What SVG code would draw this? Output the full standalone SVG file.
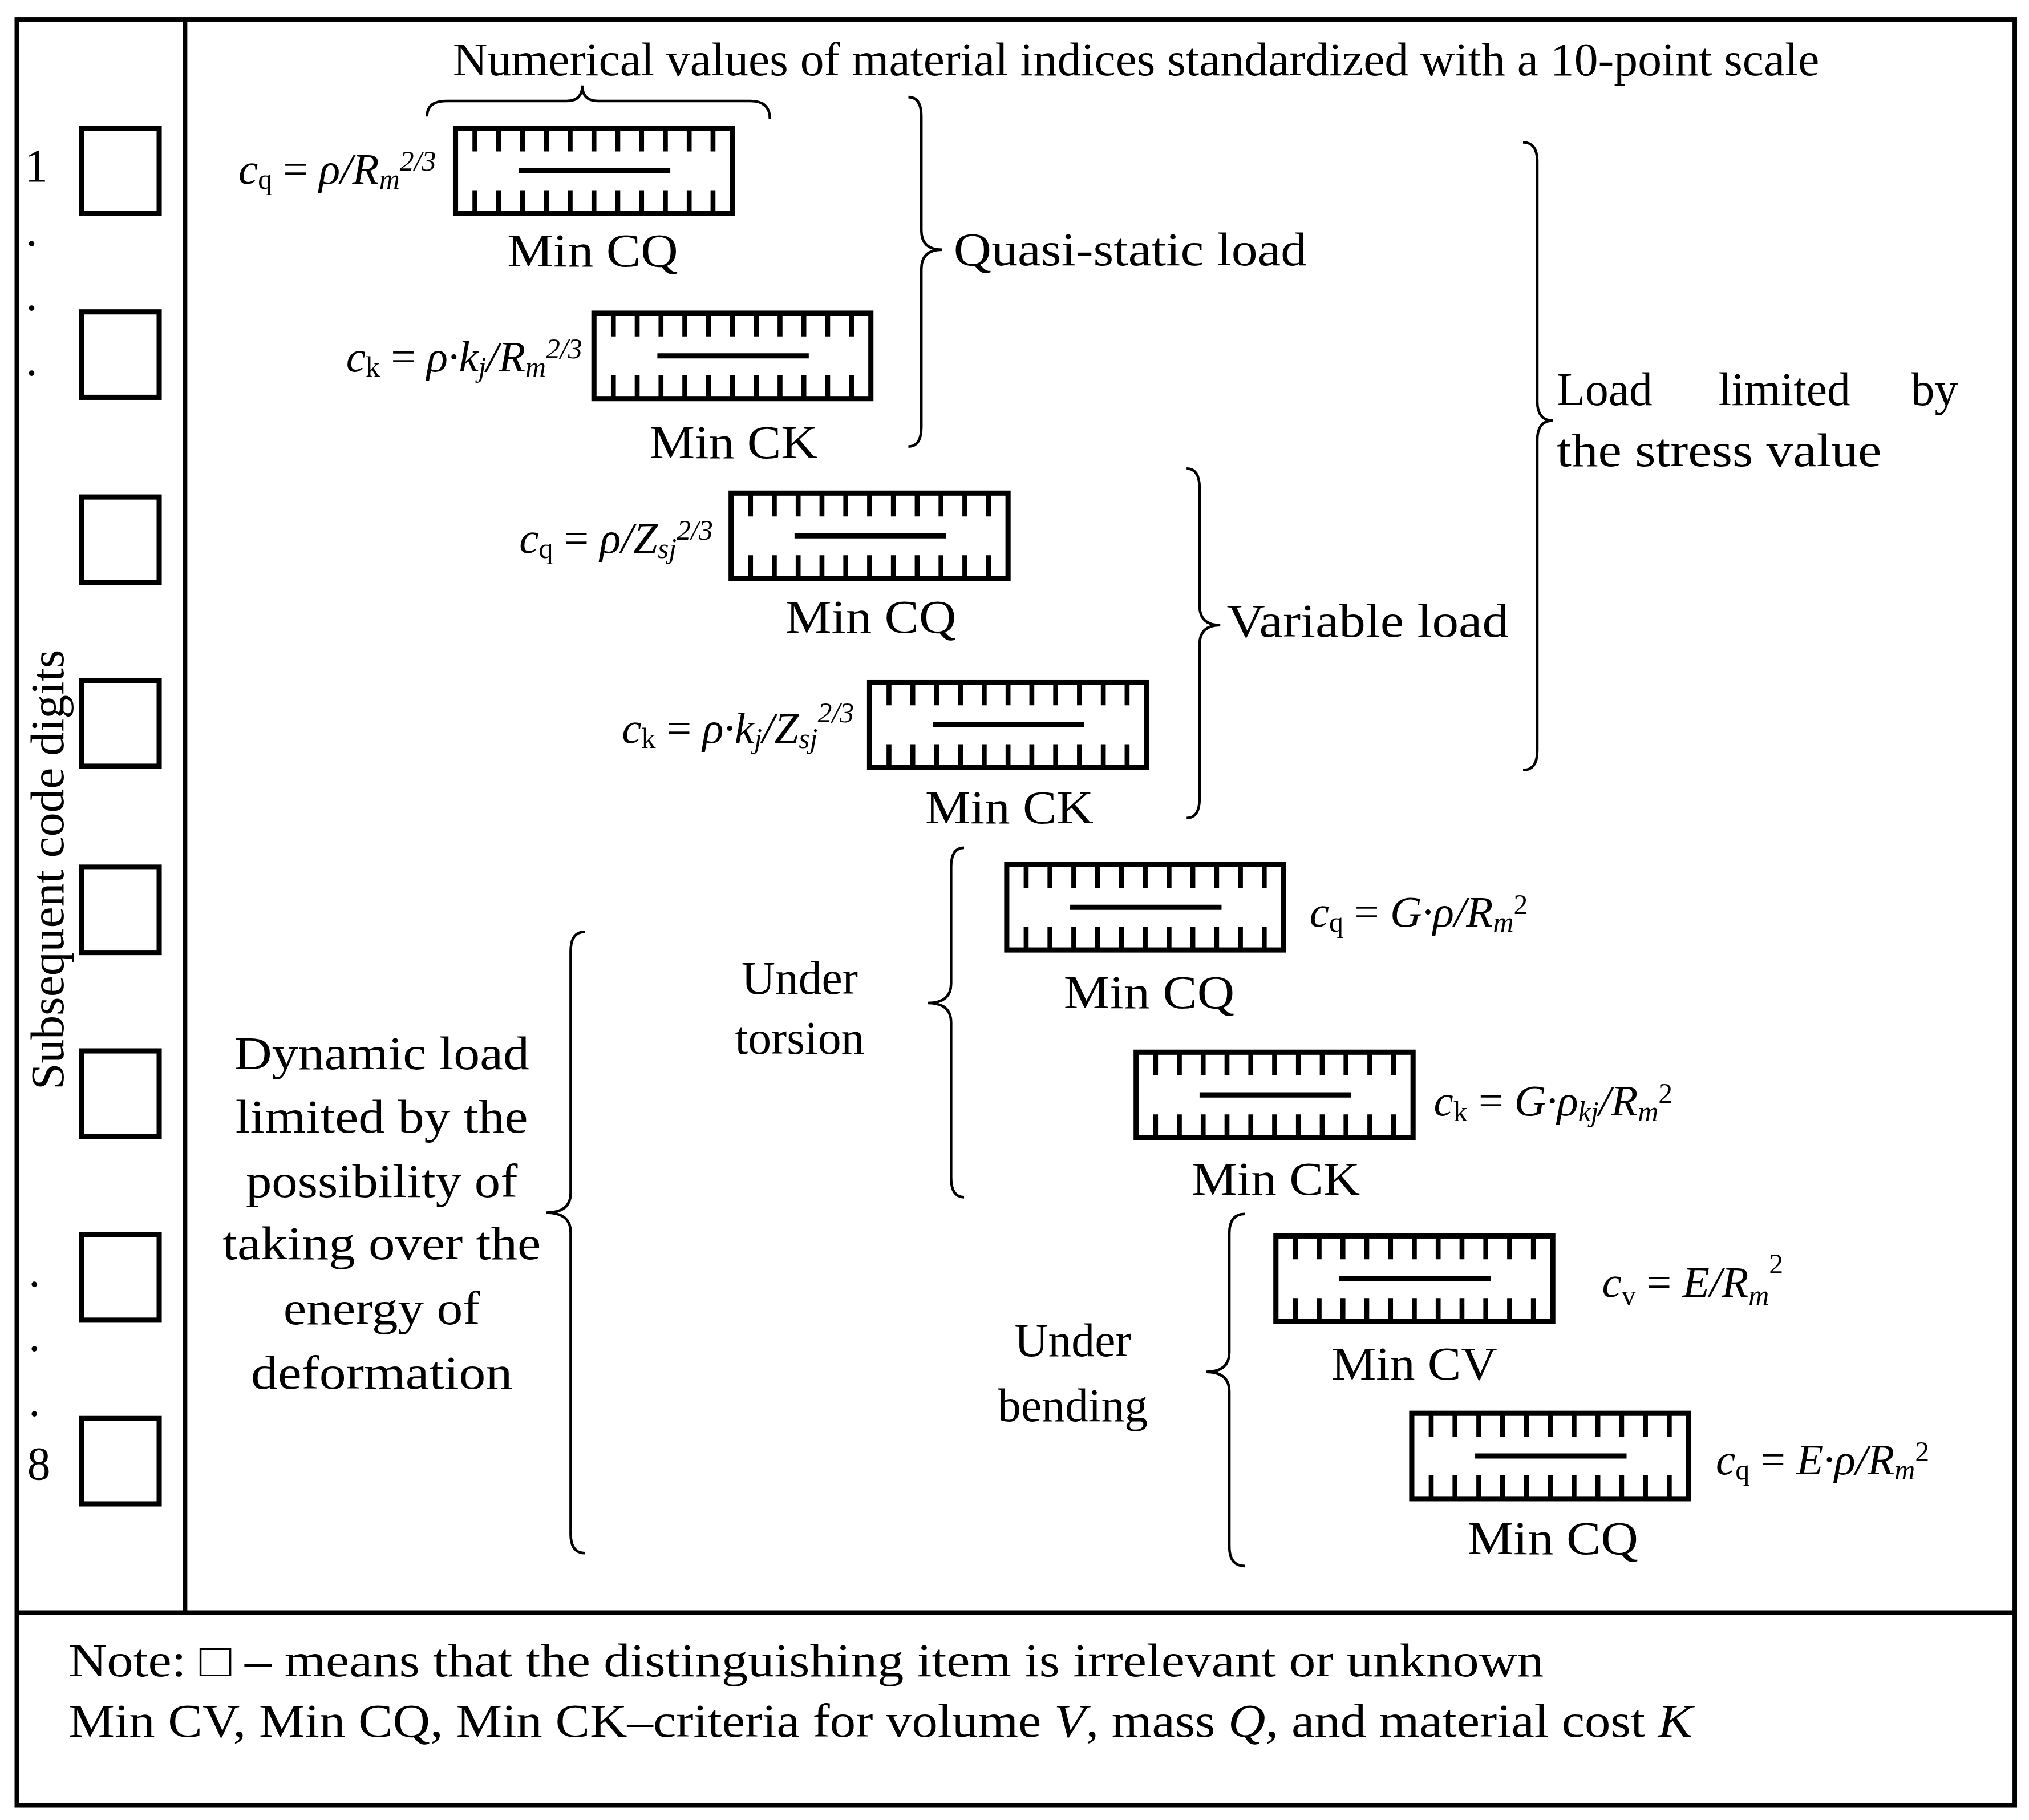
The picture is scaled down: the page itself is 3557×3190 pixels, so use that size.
<svg xmlns="http://www.w3.org/2000/svg" xmlns:xlink="http://www.w3.org/1999/xlink" width="3557" height="3190" viewBox="0 0 3557 3190">
<style>
.t{font-family:"Liberation Serif","DejaVu Serif",serif;font-size:36px;fill:#000}
.f{font-family:"Liberation Serif","DejaVu Serif",serif;font-size:34px;font-style:italic;fill:#000}
.s{font-size:22px}
.m{text-anchor:middle}
.br{fill:none;stroke:#000;stroke-width:2}
.ln{stroke:#000;stroke-width:3.5;fill:none}
</style>
<defs>
<g id="ruler">
<rect x="0" y="0" width="214" height="66" fill="#fff" stroke="#000" stroke-width="4"/>
<path stroke="#000" stroke-width="3.8" d="M15 0v18M33.4 0v18M51.8 0v18M70.2 0v18M88.6 0v18M107 0v18M125.4 0v18M143.8 0v18M162.2 0v18M180.6 0v18M199 0v18M15 66v-18M33.4 66v-18M51.8 66v-18M70.2 66v-18M88.6 66v-18M107 66v-18M125.4 66v-18M143.8 66v-18M162.2 66v-18M180.6 66v-18M199 66v-18"/>
<path stroke="#000" stroke-width="4" d="M49 33H166"/>
</g>
<rect id="sq" x="0" y="0" width="60" height="66" fill="#fff" stroke="#000" stroke-width="4"/>
</defs>
<rect width="3557" height="3190" fill="#fff"/>
<g transform="scale(2.2685)">
<g id="frame">
<rect x="13" y="15" width="1544" height="1380" class="ln"/>
<path class="ln" d="M13 1246H1557M143 15V1246"/>
</g>
<g id="digits">
<use xlink:href="#sq" x="63" y="99"/><use xlink:href="#sq" x="63" y="241"/><use xlink:href="#sq" x="63" y="384"/><use xlink:href="#sq" x="63" y="526"/>
<use xlink:href="#sq" x="63" y="670"/><use xlink:href="#sq" x="63" y="812"/><use xlink:href="#sq" x="63" y="954"/><use xlink:href="#sq" x="63" y="1096"/>
<text class="t" x="19" y="140">1</text>
<text class="t" x="20" y="190">.</text><text class="t" x="20" y="240">.</text><text class="t" x="20" y="290">.</text>
<text class="t" x="22" y="994">.</text><text class="t" x="22" y="1044">.</text><text class="t" x="22" y="1094">.</text>
<text class="t" x="21" y="1143">8</text>
<text class="t m" transform="translate(49 672) rotate(-90)" textLength="340" lengthAdjust="spacingAndGlyphs">Subsequent code digits</text>
</g>
<g id="title">
<text class="t" x="350" y="58" textLength="1056" lengthAdjust="spacingAndGlyphs">Numerical values of material indices standardized with a 10-point scale</text>
</g>
<g id="connectors">
<path class="br" d="M330 90Q330 78 345 78L438 78Q450 78 450 66Q450 78 462 78L580 78Q595 78 595 92"/>
<path class="br" d="M702 75Q712 75 712 90L712 178Q712 193 728 193Q712 193 712 208L712 330Q712 345 702 345"/>
<path class="br" d="M917 362Q927 362 927 377L927 468Q927 483 943 483Q927 483 927 498L927 617Q927 632 917 632"/>
<path class="br" d="M1177 110Q1188 110 1188 125L1188 310Q1188 325 1200 325Q1188 325 1188 340L1188 580Q1188 595 1177 595"/>
<path class="br" d="M745 655Q735 655 735 670L735 760Q735 775 717 775Q735 775 735 790L735 910Q735 925 745 925"/>
<path class="br" d="M962 938Q950 938 950 953L950 1045Q950 1060 932 1060Q950 1060 950 1075L950 1195Q950 1210 962 1210"/>
<path class="br" d="M452 720Q441 720 441 735L441 922Q441 937 422 937Q441 937 441 952L441 1185Q441 1200 452 1200"/>
</g>
<g id="n1"><use xlink:href="#ruler" x="352" y="99"/><text class="t m" x="458" y="206" textLength="132" lengthAdjust="spacingAndGlyphs">Min CQ</text>
<text class="f" x="337" y="142" text-anchor="end">c<tspan class="s" font-style="normal" dy="4">q</tspan><tspan dy="-4" font-style="normal"> = </tspan>ρ/R<tspan class="s" dy="4">m</tspan><tspan class="s" dy="-14">2/3</tspan></text></g>
<g id="n2"><use xlink:href="#ruler" x="459" y="242"/><text class="t m" x="567" y="354" textLength="130" lengthAdjust="spacingAndGlyphs">Min CK</text>
<text class="f" x="450" y="287" text-anchor="end">c<tspan class="s" font-style="normal" dy="4">k</tspan><tspan dy="-4" font-style="normal"> = </tspan>ρ·k<tspan class="s" dy="4">j</tspan><tspan dy="-4">/R</tspan><tspan class="s" dy="4">m</tspan><tspan class="s" dy="-14">2/3</tspan></text></g>
<g id="n3"><use xlink:href="#ruler" x="565" y="381"/><text class="t m" x="673" y="489" textLength="132" lengthAdjust="spacingAndGlyphs">Min CQ</text>
<text class="f" x="551" y="427" text-anchor="end">c<tspan class="s" font-style="normal" dy="4">q</tspan><tspan dy="-4" font-style="normal"> = </tspan>ρ/Z<tspan class="s" dy="4">sj</tspan><tspan class="s" dy="-14">2/3</tspan></text></g>
<g id="n4"><use xlink:href="#ruler" x="672" y="527"/><text class="t m" x="780" y="636" textLength="130" lengthAdjust="spacingAndGlyphs">Min CK</text>
<text class="f" x="660" y="574" text-anchor="end">c<tspan class="s" font-style="normal" dy="4">k</tspan><tspan dy="-4" font-style="normal"> = </tspan>ρ·k<tspan class="s" dy="4">j</tspan><tspan dy="-4">/Z</tspan><tspan class="s" dy="4">sj</tspan><tspan class="s" dy="-20">2/3</tspan></text></g>
<g id="n5"><use xlink:href="#ruler" x="778" y="668"/><text class="t m" x="888" y="779" textLength="132" lengthAdjust="spacingAndGlyphs">Min CQ</text>
<text class="f" x="1012" y="716">c<tspan class="s" font-style="normal" dy="4">q</tspan><tspan dy="-4" font-style="normal"> = </tspan>G·ρ/R<tspan class="s" dy="4">m</tspan><tspan class="s" dy="-14" font-style="normal">2</tspan></text></g>
<g id="n6"><use xlink:href="#ruler" x="878" y="813"/><text class="t m" x="986" y="923" textLength="130" lengthAdjust="spacingAndGlyphs">Min CK</text>
<text class="f" x="1108" y="862">c<tspan class="s" font-style="normal" dy="4">k</tspan><tspan dy="-4" font-style="normal"> = </tspan>G·ρ<tspan class="s" dy="4">kj</tspan><tspan dy="-4">/R</tspan><tspan class="s" dy="4">m</tspan><tspan class="s" dy="-14" font-style="normal">2</tspan></text></g>
<g id="n7"><use xlink:href="#ruler" x="986" y="955"/><text class="t m" x="1093" y="1066" textLength="128" lengthAdjust="spacingAndGlyphs">Min CV</text>
<text class="f" x="1238" y="1002">c<tspan class="s" font-style="normal" dy="6">v</tspan><tspan dy="-6" font-style="normal"> = </tspan>E/R<tspan class="s" dy="6">m</tspan><tspan class="s" dy="-24" font-style="normal">2</tspan></text></g>
<g id="n8"><use xlink:href="#ruler" x="1091" y="1092"/><text class="t m" x="1200" y="1201" textLength="132" lengthAdjust="spacingAndGlyphs">Min CQ</text>
<text class="f" x="1326" y="1139">c<tspan class="s" font-style="normal" dy="4">q</tspan><tspan dy="-4" font-style="normal"> = </tspan>E·ρ/R<tspan class="s" dy="4">m</tspan><tspan class="s" dy="-14" font-style="normal">2</tspan></text></g>
<g id="labels">
<text class="t" x="737" y="205" textLength="273" lengthAdjust="spacingAndGlyphs">Quasi-static load</text>
<text class="t" x="948" y="492" textLength="218" lengthAdjust="spacingAndGlyphs">Variable load</text>
<text class="t" x="1203" y="313">Load</text>
<text class="t m" x="1379" y="313">limited</text>
<text class="t" x="1513" y="313" text-anchor="end">by</text>
<text class="t" x="1203" y="360" textLength="251" lengthAdjust="spacingAndGlyphs">the stress value</text>
<text class="t m" x="618" y="768">Under</text><text class="t m" x="618" y="814">torsion</text>
<text class="t m" x="829" y="1048">Under</text><text class="t m" x="829" y="1098">bending</text>
<text class="t m" x="295" y="826" textLength="228" lengthAdjust="spacingAndGlyphs">Dynamic load</text>
<text class="t m" x="295" y="875" textLength="226" lengthAdjust="spacingAndGlyphs">limited by the</text>
<text class="t m" x="295" y="925" textLength="210" lengthAdjust="spacingAndGlyphs">possibility of</text>
<text class="t m" x="295" y="973" textLength="246" lengthAdjust="spacingAndGlyphs">taking over the</text>
<text class="t m" x="295" y="1023" textLength="152" lengthAdjust="spacingAndGlyphs">energy of</text>
<text class="t m" x="295" y="1073" textLength="202" lengthAdjust="spacingAndGlyphs">deformation</text>
</g>
<g id="note">
<text class="t" x="53" y="1295" textLength="1140" lengthAdjust="spacingAndGlyphs">Note: □ – means that the distinguishing item is irrelevant or unknown</text>
<text class="t" x="53" y="1342" textLength="1255" lengthAdjust="spacingAndGlyphs">Min CV, Min CQ, Min CK–criteria for volume <tspan font-style="italic">V</tspan>, mass <tspan font-style="italic">Q</tspan>, and material cost <tspan font-style="italic">K</tspan></text>
</g>
</g>
</svg>
